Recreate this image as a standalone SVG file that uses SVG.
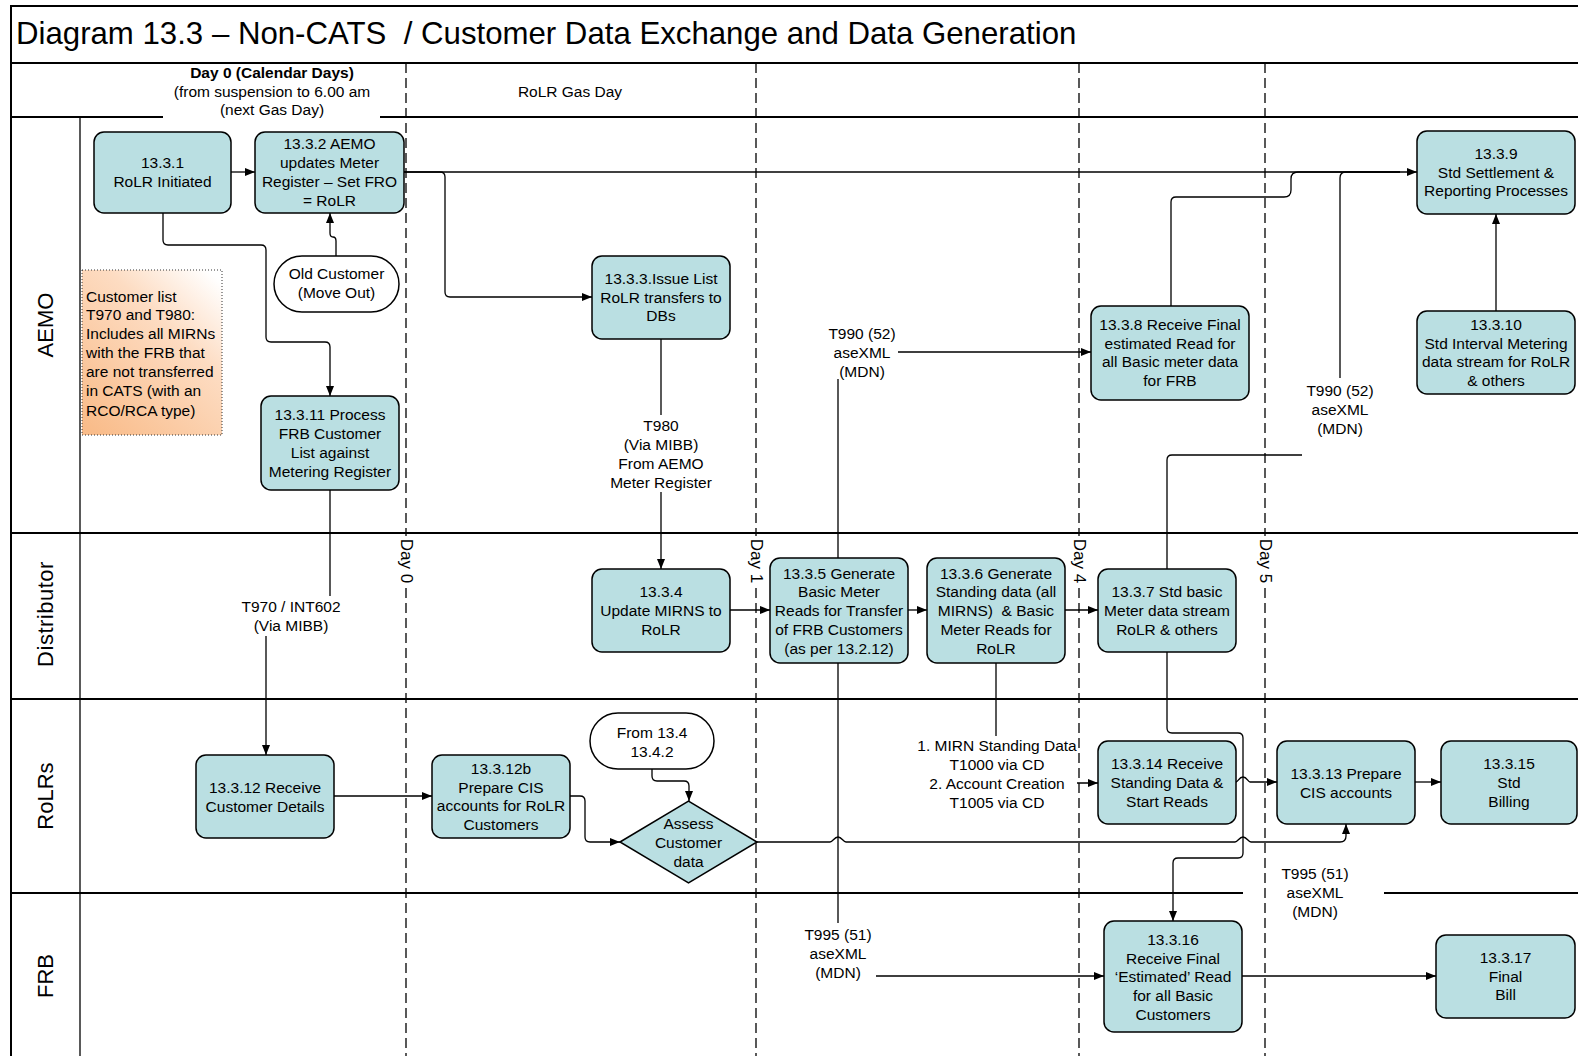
<svg xmlns="http://www.w3.org/2000/svg" width="1578" height="1056" viewBox="0 0 1578 1056">
<style>
text{font-family:"Liberation Sans",Arial,sans-serif;fill:#000}
.t{font-size:15.5px;text-anchor:middle;dominant-baseline:central}
.tl{font-size:15.5px;dominant-baseline:central}
.node{fill:#BADFE2;stroke:#000;stroke-width:1.5}
.term{fill:#fff;stroke:#000;stroke-width:1.5}
.frame{stroke:#000;stroke-width:2;fill:none}
.thin{stroke:#000;stroke-width:1.3;fill:none}
.day{stroke:#000;stroke-width:1.3;stroke-dasharray:10 5;fill:none}
.c{stroke:#000;stroke-width:1.3;fill:none}
.a{marker-end:url(#ah)}
.lane{font-size:22px;text-anchor:middle;dominant-baseline:central}
.dl{font-size:17px;text-anchor:middle;dominant-baseline:central}
.bg{fill:#fff}
</style>
<defs>
<marker id="ah" markerWidth="10" markerHeight="8" refX="10" refY="4" orient="auto" markerUnits="userSpaceOnUse"><path d="M0,0 L10,4 L0,8 z" fill="#000"/></marker>
<linearGradient id="ng" x1="0.9" y1="0" x2="0.1" y2="1"><stop offset="0" stop-color="#FFFFFF"/><stop offset="0.35" stop-color="#FDDCC2"/><stop offset="1" stop-color="#F9BC8A"/></linearGradient>
</defs>
<rect x="0" y="0" width="1578" height="1056" fill="#fff"/>

<g id="frame">
<path class="frame" d="M11,1056 V6 H1578 M11,63 H1578 M11,117 H1578 M11,533 H1578 M11,699 H1578 M11,893 H1243 M1384,893 H1578"/>
<path class="thin" d="M80,117 V1056"/>
<text x="16" y="44" font-size="31.2" style="white-space:pre">Diagram 13.3 – Non-CATS  / Customer Data Exchange and Data Generation</text>
<rect class="bg" x="163" y="102" width="217" height="18"/>
<text class="t" x="272" y="72" font-weight="bold">Day 0 (Calendar Days)</text>
<text class="t" x="272" y="91">(from suspension to 6.00 am</text>
<text class="t" x="272" y="109">(next Gas Day)</text>
<text class="t" x="570" y="91">RoLR Gas Day</text>
<text class="lane" transform="translate(45,325) rotate(-90)">AEMO</text>
<text class="lane" transform="translate(45,614) rotate(-90)" letter-spacing="0.5">Distributor</text>
<text class="lane" transform="translate(45,796) rotate(-90)">RoLRs</text>
<text class="lane" transform="translate(45,976) rotate(-90)">FRB</text>
</g>

<g id="days">
<path class="day" d="M406,63 V1056 M756,63 V1056 M1079,63 V1056 M1265,63 V1056"/>
<g transform="translate(406,561) rotate(90)"><rect class="bg" x="-25" y="-8" width="50" height="16"/><text class="dl">Day 0</text></g>
<g transform="translate(756,561) rotate(90)"><rect class="bg" x="-25" y="-8" width="50" height="16"/><text class="dl">Day 1</text></g>
<g transform="translate(1079,561) rotate(90)"><rect class="bg" x="-25" y="-8" width="50" height="16"/><text class="dl">Day 4</text></g>
<g transform="translate(1265,561) rotate(90)"><rect class="bg" x="-25" y="-8" width="50" height="16"/><text class="dl">Day 5</text></g>
</g>

<g id="connectors">
<path class="c a" d="M231,172 H255"/>
<path class="c a" d="M404,172 H1417"/>
<path class="c a" d="M404,172 H440 Q445,172 445,177 V292 Q445,297 450,297 H592"/>
<path class="c a" d="M163,213 V240 Q163,245 168,245 H261 Q266,245 266,250 V337 Q266,342 271,342 H325 Q330,342 330,347 V396"/>
<path class="c a" d="M336,256 V241 Q336,237 333,237 Q330,237 330,233 V213"/>
<path class="c a" d="M330,490 V610 H266 V755"/>
<path class="c a" d="M661,339 V569"/>
<path class="c a" d="M730,610 H770"/>
<path class="c a" d="M908,610 H927"/>
<path class="c a" d="M1065,610 H1098"/>
<path class="c a" d="M838,558 V352 H1091"/>
<path class="c a" d="M838,663 V976 H1104"/>
<path class="c a" d="M996,663 V783 H1098"/>
<path class="c" d="M1167,569 V460 Q1167,455 1172,455 H1340 V178 Q1340,172 1346,172 H1400"/>
<path class="c" d="M1171,306 V202 Q1171,197 1176,197 H1284 Q1291,197 1291,190 V179 Q1291,172 1298,172 H1400"/>
<path class="c a" d="M1496,311 V214"/>
<path class="c a" d="M1167,652 V728 Q1167,733 1172,733 H1238 Q1243,733 1243,738 V853 Q1243,858 1238,858 H1178 Q1173,858 1173,863 V921"/>
<path class="c a" d="M334,796 H432"/>
<path class="c a" d="M570,796 H580 Q585,796 585,801 V837 Q585,842 590,842 H620"/>
<path class="c a" d="M652,769 V776 Q652,781 657,781 H684 Q689,781 689,786 V801"/>
<path class="c a" d="M757,842 H830 c3,0 4,-5 8,-5 c4,0 5,5 8,5 H1235 c3,0 4,-5 8,-5 c4,0 5,5 8,5 H1340 Q1346,842 1346,836 V824"/>
<path class="c a" d="M1236,782 c2,0 3,-5 7,-5 c4,0 5,5 7,5 H1277"/>
<path class="c a" d="M1415,782 H1441"/>
<path class="c a" d="M1242,976 H1436"/>
</g>

<g id="labels">
<rect class="bg" x="238" y="596" width="108" height="40"/>
<text class="t" x="291" y="606">T970 / INT602</text>
<text class="t" x="291" y="625">(Via MIBB)</text>
<rect class="bg" x="606" y="415" width="110" height="77"/>
<text class="t" x="661" y="425">T980</text>
<text class="t" x="661" y="444">(Via MIBB)</text>
<text class="t" x="661" y="463">From AEMO</text>
<text class="t" x="661" y="482">Meter Register</text>
<rect class="bg" x="826" y="322" width="72" height="57"/>
<text class="t" x="862" y="333">T990 (52)</text>
<text class="t" x="862" y="352">aseXML</text>
<text class="t" x="862" y="371">(MDN)</text>
<rect class="bg" x="1302" y="378" width="76" height="82"/>
<text class="t" x="1340" y="390">T990 (52)</text>
<text class="t" x="1340" y="409">aseXML</text>
<text class="t" x="1340" y="428">(MDN)</text>
<rect class="bg" x="914" y="736" width="163" height="76"/>
<text class="t" x="997" y="745">1. MIRN Standing Data</text>
<text class="t" x="997" y="764">T1000 via CD</text>
<text class="t" x="997" y="783">2. Account Creation</text>
<text class="t" x="997" y="802">T1005 via CD</text>
<rect class="bg" x="803" y="923" width="73" height="62"/>
<text class="t" x="838" y="934">T995 (51)</text>
<text class="t" x="838" y="953">aseXML</text>
<text class="t" x="838" y="972">(MDN)</text>
<text class="t" x="1315" y="873">T995 (51)</text>
<text class="t" x="1315" y="892">aseXML</text>
<text class="t" x="1315" y="911">(MDN)</text>
</g>

<g id="note-customer-list">
<rect x="82" y="270" width="140" height="165" fill="url(#ng)" stroke="#333" stroke-width="1" stroke-dasharray="1 2"/>
<text class="tl" x="86" y="296">Customer list</text>
<text class="tl" x="86" y="314">T970 and T980:</text>
<text class="tl" x="86" y="333">Includes all MIRNs</text>
<text class="tl" x="86" y="352">with the FRB that</text>
<text class="tl" x="86" y="371">are not transferred</text>
<text class="tl" x="86" y="390">in CATS (with an</text>
<text class="tl" x="86" y="410">RCO/RCA type)</text>
</g>

<g id="n-13-3-1"><rect class="node" x="94" y="132" width="137" height="81" rx="10"/>
<text class="t" x="162.5" y="162">13.3.1</text><text class="t" x="162.5" y="181">RoLR Initiated</text></g>

<g id="n-13-3-2"><rect class="node" x="255" y="132" width="149" height="81" rx="10"/>
<text class="t" x="329.5" y="143">13.3.2 AEMO</text><text class="t" x="329.5" y="162">updates Meter</text><text class="t" x="329.5" y="181">Register – Set FRO</text><text class="t" x="329.5" y="200">= RoLR</text></g>

<g id="n-old-customer"><rect class="term" x="274" y="256" width="125" height="56" rx="28"/>
<text class="t" x="336.5" y="273">Old Customer</text><text class="t" x="336.5" y="292">(Move Out)</text></g>

<g id="n-13-3-11"><rect class="node" x="261" y="396" width="138" height="94" rx="10"/>
<text class="t" x="330" y="414">13.3.11 Process</text><text class="t" x="330" y="433">FRB Customer</text><text class="t" x="330" y="452">List against</text><text class="t" x="330" y="471">Metering Register</text></g>

<g id="n-13-3-3"><rect class="node" x="592" y="256" width="138" height="83" rx="10"/>
<text class="t" x="661" y="278">13.3.3.Issue List</text><text class="t" x="661" y="297">RoLR transfers to</text><text class="t" x="661" y="315">DBs</text></g>

<g id="n-13-3-8"><rect class="node" x="1091" y="306" width="158" height="94" rx="10"/>
<text class="t" x="1170" y="324">13.3.8 Receive Final</text><text class="t" x="1170" y="343">estimated Read for</text><text class="t" x="1170" y="361">all Basic meter data</text><text class="t" x="1170" y="380">for FRB</text></g>

<g id="n-13-3-9"><rect class="node" x="1417" y="131" width="158" height="83" rx="10"/>
<text class="t" x="1496" y="153">13.3.9</text><text class="t" x="1496" y="172">Std Settlement &amp;</text><text class="t" x="1496" y="190">Reporting Processes</text></g>

<g id="n-13-3-10"><rect class="node" x="1417" y="311" width="158" height="83" rx="10"/>
<text class="t" x="1496" y="324">13.3.10</text><text class="t" x="1496" y="343">Std Interval Metering</text><text class="t" x="1496" y="361">data stream for RoLR</text><text class="t" x="1496" y="380">&amp; others</text></g>

<g id="n-13-3-4"><rect class="node" x="592" y="569" width="138" height="83" rx="10"/>
<text class="t" x="661" y="591">13.3.4</text><text class="t" x="661" y="610">Update MIRNS to</text><text class="t" x="661" y="629">RoLR</text></g>

<g id="n-13-3-5"><rect class="node" x="770" y="558" width="138" height="105" rx="10"/>
<text class="t" x="839" y="573">13.3.5 Generate</text><text class="t" x="839" y="591">Basic Meter</text><text class="t" x="839" y="610">Reads for Transfer</text><text class="t" x="839" y="629">of FRB Customers</text><text class="t" x="839" y="648">(as per 13.2.12)</text></g>

<g id="n-13-3-6"><rect class="node" x="927" y="558" width="138" height="105" rx="10"/>
<text class="t" x="996" y="573">13.3.6 Generate</text><text class="t" x="996" y="591">Standing data (all</text><text class="t" x="996" y="610" style="white-space:pre">MIRNS)  &amp; Basic</text><text class="t" x="996" y="629">Meter Reads for</text><text class="t" x="996" y="648">RoLR</text></g>

<g id="n-13-3-7"><rect class="node" x="1098" y="569" width="138" height="83" rx="10"/>
<text class="t" x="1167" y="591">13.3.7 Std basic</text><text class="t" x="1167" y="610">Meter data stream</text><text class="t" x="1167" y="629">RoLR &amp; others</text></g>

<g id="n-13-3-12"><rect class="node" x="196" y="755" width="138" height="83" rx="10"/>
<text class="t" x="265" y="787">13.3.12 Receive</text><text class="t" x="265" y="806">Customer Details</text></g>

<g id="n-13-3-12b"><rect class="node" x="432" y="755" width="138" height="83" rx="10"/>
<text class="t" x="501" y="768">13.3.12b</text><text class="t" x="501" y="787">Prepare CIS</text><text class="t" x="501" y="805">accounts for RoLR</text><text class="t" x="501" y="824">Customers</text></g>

<g id="n-from-13-4"><rect class="term" x="590" y="713" width="124" height="56" rx="28"/>
<text class="t" x="652" y="732">From 13.4</text><text class="t" x="652" y="751">13.4.2</text></g>

<g id="n-assess"><path class="node" d="M620,842 L688.5,801 L757,842 L688.5,883 Z"/>
<text class="t" x="688.5" y="823">Assess</text><text class="t" x="688.5" y="842">Customer</text><text class="t" x="688.5" y="861">data</text></g>

<g id="n-13-3-14"><rect class="node" x="1098" y="741" width="138" height="83" rx="10"/>
<text class="t" x="1167" y="763">13.3.14 Receive</text><text class="t" x="1167" y="782">Standing Data &amp;</text><text class="t" x="1167" y="801">Start Reads</text></g>

<g id="n-13-3-13"><rect class="node" x="1277" y="741" width="138" height="83" rx="10"/>
<text class="t" x="1346" y="773">13.3.13 Prepare</text><text class="t" x="1346" y="792">CIS accounts</text></g>

<g id="n-13-3-15"><rect class="node" x="1441" y="741" width="136" height="83" rx="10"/>
<text class="t" x="1509" y="763">13.3.15</text><text class="t" x="1509" y="782">Std</text><text class="t" x="1509" y="801">Billing</text></g>

<g id="n-13-3-16"><rect class="node" x="1104" y="921" width="138" height="111" rx="10"/>
<text class="t" x="1173" y="939">13.3.16</text><text class="t" x="1173" y="958">Receive Final</text><text class="t" x="1173" y="976">‘Estimated’ Read</text><text class="t" x="1173" y="995">for all Basic</text><text class="t" x="1173" y="1014">Customers</text></g>

<g id="n-13-3-17"><rect class="node" x="1436" y="935" width="139" height="83" rx="10"/>
<text class="t" x="1505.5" y="957">13.3.17</text><text class="t" x="1505.5" y="976">Final</text><text class="t" x="1505.5" y="994">Bill</text></g>
</svg>
